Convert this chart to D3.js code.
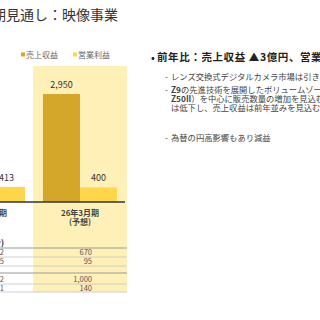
<!DOCTYPE html>
<html>
<head>
<meta charset="utf-8">
<script src="https://cdn.jsdelivr.net/npm/d3@7"></script>
<style>
  body { margin: 0; background: #fff; }
  svg { display: block; font-family: "Noto Sans CJK JP", "Noto Sans", sans-serif; }
</style>
</head>
<body>
<div id="chart"></div>
<script>
// Chart data
const periods = ["25年3月期", "26年3月期"];
const periodNotes = ["(実績)", "(予想)"];
const revenue = [2953, 2950];
const opIncome = [413, 400];
const seriesNames = ["売上収益", "営業利益"];
const seriesColors = ["#D4A62A", "#FFD54A"];

// table rows under the chart (prev year, this year forecast)
const tablePrev = ["672", "95", "", "1,002", "141"];
const tableCur = ["670", "95", "", "1,000", "140"];

const bulletHead = "前年比：売上収益 ▲3億円、営業利益 ▲13億円";
// each line: [bold lead, rest]
const bulletLines = [
  { dash: true, bold: "", text: "レンズ交換式デジタルカメラ市場は引き続き堅調" },
  { dash: true, bold: "Z9", text: "の先進技術を展開したボリュームゾーン製品（Z5II、" },
  { dash: false, bold: "Z50II", text: "）を中心に販売数量の増加を見込むも、平均単価" },
  { dash: false, bold: "", text: "は低下し、売上収益は前年並みを見込む" },
  { dash: true, bold: "", text: "為替の円高影響もあり減益" }
];

const width = 320, height = 320;
const svg = d3.select("#chart").append("svg")
  .attr("width", width)
  .attr("height", height);

// Title (cut at the left edge like the slide crop)
svg.append("text")
  .attr("x", 118).attr("y", 20)
  .attr("text-anchor", "end")
  .attr("font-size", 14)
  .attr("fill", "#333")
  .text("26年3月期見通し：映像事業");

// Scales
const x = d3.scaleBand().domain(periods).range([-58, 126]).paddingInner(0);
const xi = d3.scaleBand().domain(seriesNames).range([9, 83]);
const y = d3.scaleLinear().domain([0, 2950]).range([202, 94]);

// highlight behind forecast column
svg.append("rect")
  .attr("x", x("26年3月期") - 1)
  .attr("y", 66)
  .attr("width", x.bandwidth() + 2)
  .attr("height", 226)
  .attr("fill", "#FFF0B8");

// Legend
const legend = svg.append("g").attr("font-size", 8).attr("fill", "#666");
seriesNames.forEach((name, i) => {
  const lx = 21 + i * 52;
  legend.append("rect")
    .attr("x", lx).attr("y", 52.5)
    .attr("width", 4).attr("height", 4)
    .attr("fill", seriesColors[i]);
  legend.append("text")
    .attr("x", lx + 5).attr("y", 58)
    .text(name);
});

// Bars
const groups = svg.selectAll(".grp")
  .data(periods)
  .enter()
  .append("g")
  .attr("class", "grp")
  .attr("transform", (d) => `translate(${x(d)},0)`);

groups.each(function (p, i) {
  const g = d3.select(this);
  const vals = [revenue[i], opIncome[i]];
  vals.forEach((v, j) => {
    g.append("rect")
      .attr("x", xi(seriesNames[j]))
      .attr("y", y(v))
      .attr("width", xi.bandwidth())
      .attr("height", y(0) - y(v))
      .attr("fill", seriesColors[j]);
    g.append("text")
      .attr("x", xi(seriesNames[j]) + xi.bandwidth() / 2)
      .attr("y", y(v) - 6)
      .attr("text-anchor", "middle")
      .attr("font-size", 9)
      .attr("fill", "#333")
      .text(d3.format(",")(v));
  });
  g.append("text")
    .attr("x", x.bandwidth() / 2)
    .attr("y", 216)
    .attr("text-anchor", "middle")
    .attr("font-size", 8)
    .attr("font-weight", "bold")
    .attr("fill", "#444")
    .text(p);
  g.append("text")
    .attr("x", x.bandwidth() / 2)
    .attr("y", 225)
    .attr("text-anchor", "middle")
    .attr("font-size", 8)
    .attr("font-weight", "bold")
    .attr("fill", i === 0 ? "#2E75B6" : "#444")
    .text(periodNotes[i]);
});

// axis base line
svg.append("line")
  .attr("x1", 0).attr("x2", 125)
  .attr("y1", y(0)).attr("y2", y(0))
  .attr("stroke", "#333")
  .attr("stroke-width", 1.3);

// Table
const rowTops = [248, 257, 266, 275, 284];
const rowH = [9, 9, 7, 9, 8];
svg.append("text")
  .attr("x", 4).attr("y", 246)
  .attr("text-anchor", "end")
  .attr("font-size", 8)
  .attr("font-weight", "bold")
  .attr("fill", "#222")
  .text("(万台)");

svg.append("line")
  .attr("x1", 0).attr("x2", 127)
  .attr("y1", 248).attr("y2", 248)
  .attr("stroke", "#999").attr("stroke-width", 1.2);

tableCur.forEach((v, i) => {
  const top = rowTops[i];
  const bottom = top + rowH[i];
  svg.append("line")
    .attr("x1", 0).attr("x2", 127)
    .attr("y1", bottom).attr("y2", bottom)
    .attr("stroke", i === 2 ? "#999" : "#c4c4c4")
    .attr("stroke-width", i === 2 ? 1.2 : 0.8);
  const ty = top + rowH[i] / 2 + 2.8;
  svg.append("text")
    .attr("x", 92).attr("y", ty)
    .attr("text-anchor", "end")
    .attr("font-size", 7.5)
    .attr("fill", "#555")
    .text(v);
  svg.append("text")
    .attr("x", 4).attr("y", ty)
    .attr("text-anchor", "end")
    .attr("font-size", 7.5)
    .attr("fill", "#555")
    .text(tablePrev[i]);
});

// Right-hand commentary
svg.append("text")
  .attr("x", 151).attr("y", 61)
  .attr("font-size", 10)
  .attr("font-weight", "bold")
  .attr("fill", "#222")
  .text("•");
svg.append("text")
  .attr("x", 157).attr("y", 61)
  .attr("font-size", 10.5)
  .attr("letter-spacing", 0.6)
  .attr("font-weight", "bold")
  .attr("fill", "#222")
  .text(bulletHead);

const lineYs = [80, 93, 102, 111, 141];
bulletLines.forEach((l, i) => {
  if (l.dash) {
    svg.append("text")
      .attr("x", 165).attr("y", lineYs[i])
      .attr("font-size", 8.3)
      .attr("fill", "#444")
      .text("-");
  }
  const t = svg.append("text")
    .attr("x", 171).attr("y", lineYs[i])
    .attr("font-size", 8.3)
    .attr("fill", "#444");
  if (l.bold) {
    t.append("tspan").attr("font-weight", "bold").text(l.bold);
  }
  t.append("tspan").text(l.text);
});
</script>
</body>
</html>
